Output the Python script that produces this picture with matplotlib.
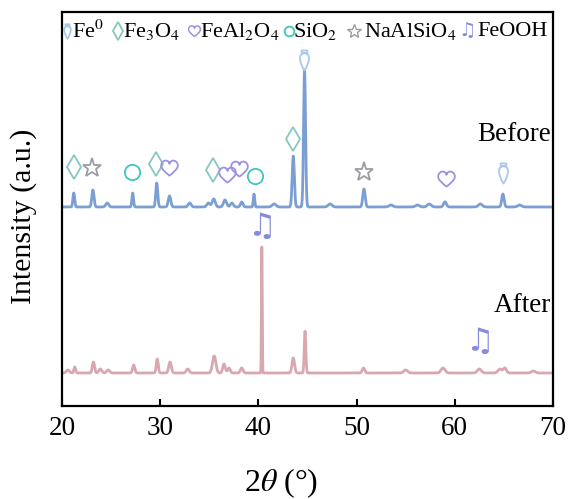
import numpy as np
import matplotlib
matplotlib.use("Agg")
import matplotlib.pyplot as plt
from matplotlib.path import Path

plt.rcParams['font.family'] = ['Liberation Serif', 'DejaVu Sans']
plt.rcParams['mathtext.fontset'] = 'stix'

# --- data ---
two_theta = np.arange(20, 70.001, 0.02)

# Before: peak position (2theta), height, width (sigma)
before_pos = [21.2, 23.15, 24.6, 27.2, 29.65, 30.95, 33.0, 34.9, 35.45, 36.6, 37.3, 38.3,
              39.55, 41.6, 43.55, 44.7, 47.3, 50.75, 53.5, 56.2, 57.4, 59.0, 62.6, 64.9, 66.6]
before_height = [14, 17, 4, 14, 24, 11, 4, 4, 8, 7, 4, 5,
                 13, 3, 51, 137, 3, 18, 2, 2, 3, 5, 3, 13, 2]
before_width = [0.09, 0.11, 0.15, 0.08, 0.1, 0.13, 0.15, 0.15, 0.16, 0.16, 0.15, 0.13,
                0.07, 0.2, 0.11, 0.1, 0.2, 0.12, 0.2, 0.2, 0.2, 0.15, 0.2, 0.12, 0.2]
before_offset = 199

# After
after_pos = [20.6, 21.3, 23.2, 23.9, 24.7, 27.3, 29.7, 31.0, 32.8, 35.5, 36.5, 37.0, 38.3,
             40.35, 43.55, 44.75, 50.7, 55.0, 58.8, 62.5, 64.6, 65.1, 68.0]
after_height = [3, 6, 11, 4, 3, 8, 14, 11, 4, 17, 9, 5, 5,
                130, 15, 42, 5, 3, 5, 4, 4, 5, 2]
after_width = [0.15, 0.09, 0.11, 0.15, 0.15, 0.11, 0.1, 0.13, 0.15, 0.17, 0.13, 0.13, 0.13,
               0.04, 0.13, 0.08, 0.13, 0.2, 0.2, 0.2, 0.2, 0.15, 0.2]
after_offset = 33

# phase markers: (2theta, height) in axis units
fe0_marks = [(44.67, 346), (64.88, 233)]
fe3o4_marks = [(21.22, 239), (29.54, 242), (35.41, 236), (43.55, 267)]
feal2o4_marks = [(30.93, 238), (36.77, 231), (38.05, 237), (59.07, 227)]
sio2_marks = [(27.16, 234), (39.65, 230)]
naalsio4_marks = [(23.09, 238), (50.75, 234)]
feooh_marks = [(40.34, 178), (62.5, 63)]

legend_labels = ['Fe$^{0}$', 'Fe$_{3}$O$_{4}$', 'FeAl$_{2}$O$_{4}$', 'SiO$_{2}$',
                 'NaAlSiO$_{4}$', 'FeOOH']

c_before = '#7c9fd3'
c_after = '#d8a8ae'
c_fe0 = '#a9c9ea'
c_fe3o4 = '#86c7c2'
c_feal = '#9d91e2'
c_sio2 = '#3dc6c0'
c_star = '#9c9ca4'
c_note = '#868cdc'


def profile(pos, height, width):
    y = np.zeros_like(two_theta)
    for p, h, w in zip(pos, height, width):
        y += h * np.exp(-0.5 * ((two_theta - p) / w) ** 2)
    return y


# vase shaped marker for Fe0
body = [(-0.16, 0.72), (-0.4, 0.5), (-0.46, 0.25), (-0.38, -0.2), (-0.18, -0.7),
        (0.0, -1.0), (0.18, -0.7), (0.38, -0.2), (0.46, 0.25), (0.4, 0.5), (0.16, 0.72),
        (-0.16, 0.72)]
cap = [(-0.28, 0.72), (-0.28, 1.0), (0.28, 1.0), (0.28, 0.72), (-0.28, 0.72)]
vase = Path.make_compound_path(Path(body, closed=True), Path(cap, closed=True))

# heart shaped marker for FeAl2O4
C = Path.CURVE4
heart = Path([(0, -0.85),
              (-0.5, -0.45), (-1.0, -0.05), (-1.0, 0.35),
              (-1.0, 0.75), (-0.7, 0.95), (-0.45, 0.95),
              (-0.2, 0.95), (0, 0.75), (0, 0.55),
              (0, 0.75), (0.2, 0.95), (0.45, 0.95),
              (0.7, 0.95), (1.0, 0.75), (1.0, 0.35),
              (1.0, -0.05), (0.5, -0.45), (0, -0.85),
              (0, -0.85)],
             [Path.MOVETO] + [C] * 18 + [Path.CLOSEPOLY])

fig = plt.figure(figsize=(5.73, 4.99), dpi=100)
ax = fig.add_axes([0.1082, 0.1864, 0.8569, 0.7896])

ax.plot(two_theta, profile(before_pos, before_height, before_width) + before_offset,
        color=c_before, lw=2)
ax.plot(two_theta, profile(after_pos, after_height, after_width) + after_offset,
        color=c_after, lw=2)

mkw = dict(ls='none', mfc='none', mew=1.3)
ax.plot(*zip(*fe0_marks), marker=vase, ms=14.5, mec=c_fe0, **mkw)
ax.plot(*zip(*fe3o4_marks), marker='d', ms=12.5, mec=c_fe3o4, **mkw)
ax.plot(*zip(*sio2_marks), marker='o', ms=11, mec=c_sio2, **mkw)
ax.plot(*zip(*naalsio4_marks), marker='*', ms=14, mec=c_star, **mkw)
ax.plot(*zip(*feal2o4_marks), marker=heart, ms=12, mec=c_feal, **mkw)
for x, y in feooh_marks:
    ax.text(x, y, '\u266b', family='DejaVu Sans', fontsize=23, color=c_note,
            ha='center', va='center', fontweight='bold')

# legend row along the top
leg_y = 374
sym_x = [20.55, 25.7, 33.45, 43.1, 49.75, 61.25]
txt_x = [21.05, 26.25, 34.1, 43.5, 50.75, 62.25]
ax.plot(sym_x[0], leg_y + 1, marker=vase, ms=10.5, mec=c_fe0, **mkw)
ax.plot(sym_x[1], leg_y + 1, marker='d', ms=9, mec=c_fe3o4, **mkw)
ax.plot(sym_x[2], leg_y + 1, marker=heart, ms=8.5, mec=c_feal, mew=1.1, ls='none', mfc='none')
ax.plot(sym_x[3], leg_y + 1, marker='o', ms=7, mec=c_sio2, **mkw)
ax.plot(sym_x[4], leg_y + 1, marker='*', ms=10, mec=c_star, mew=1.0, ls='none', mfc='none')
ax.text(sym_x[5], leg_y + 1, '\u266b', family='DejaVu Sans', fontsize=14, color=c_note,
        ha='center', va='center', fontweight='bold')
for x, lab in zip(txt_x, legend_labels):
    ax.text(x, leg_y, lab, fontsize=16, ha='left', va='center')

ax.text(69.85, 271, 'Before', fontsize=19.5, ha='right', va='center')
ax.text(69.75, 100, 'After', fontsize=19.5, ha='right', va='center')

ax.set_xlim(20, 70)
ax.set_ylim(0, 394)
ax.set_xticks([20, 30, 40, 50, 60, 70])
ax.set_yticks([])
ax.tick_params(axis='x', direction='in', length=5, width=1.5, labelsize=19.5, pad=7)
for s in ax.spines.values():
    s.set_linewidth(1.6)

fig.text(281 / 573, 1 - 483 / 499, r'2$\theta$ (°)', fontsize=23, ha='center', va='center')
fig.text(24 / 573, 1 - 216 / 499, 'Intensity (a.u.)', fontsize=21.5, rotation=90,
         ha='center', va='center')

fig.savefig('out.png', dpi=100)
